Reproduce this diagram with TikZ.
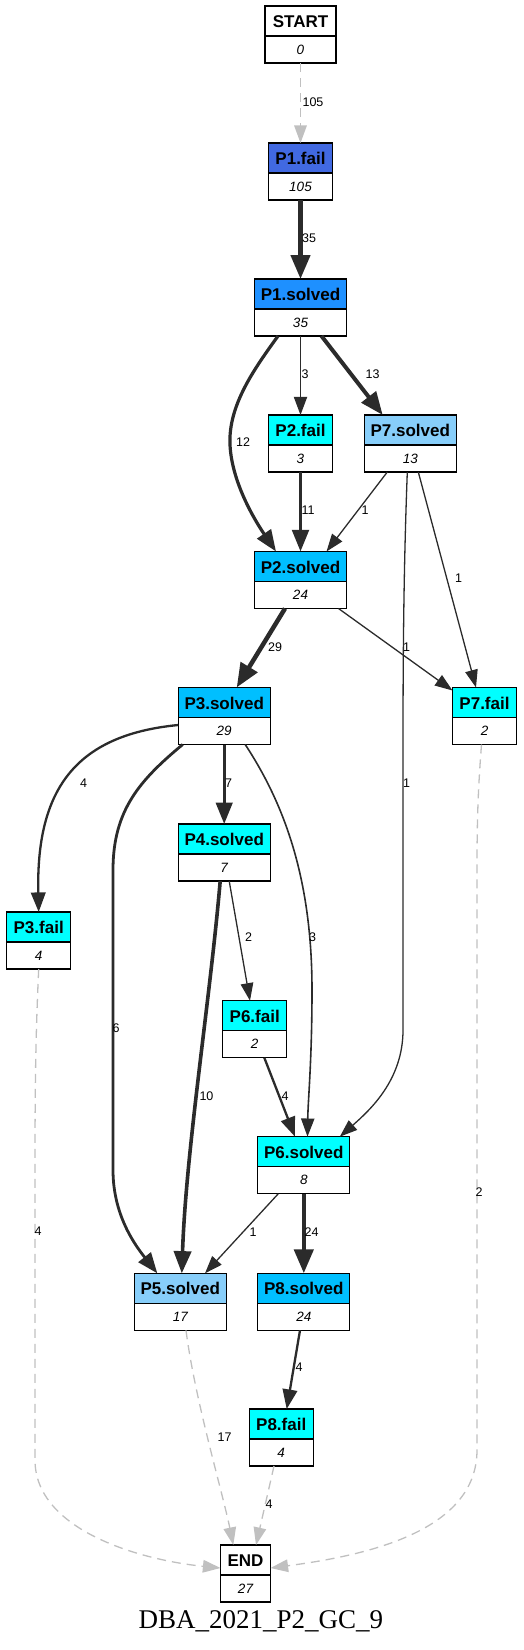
\documentclass[tikz,border=0pt]{standalone}
\usepackage{fontspec}
\setmainfont{Liberation Serif}
\newfontfamily\gvsans{Liberation Sans}
\usetikzlibrary{arrows.meta}
\definecolor{edgec}{HTML}{2B2B2B}
\definecolor{grayc}{HTML}{C0C0C0}
\definecolor{royal}{HTML}{4169E1}
\definecolor{dodger}{HTML}{1E90FF}
\definecolor{deepsky}{HTML}{00BFFF}
\definecolor{lightsky}{HTML}{87CEFA}
\definecolor{cyanc}{HTML}{00FFFF}
\tikzset{
 gvb/.style={draw=black, line width=1.3pt, minimum height=57pt, inner sep=0pt, outer sep=0pt},
 gvt/.style={font=\gvsans\fontsize{17}{17}\selectfont\bfseries, inner sep=0pt},
 gvv/.style={font=\gvsans\fontsize{13.5}{13.5}\selectfont\itshape, inner sep=0pt},
 lbl/.style={font=\gvsans\fontsize{12.5}{12.5}\selectfont, inner sep=0pt},
 ed/.style={draw=edgec, line width=#1, -{Triangle[length=15pt 2, width=10pt 2]}},
 ged/.style={draw=grayc, line width=1.3pt, dash pattern=on 9pt off 6pt, -{Triangle[length=15pt 2, width=10pt 2]}},
}
\newcommand{\gvbox}[7]{%
  \fill[#5] (#2-#4/2,#3) rectangle (#2+#4/2,#3+30);
  \node[gvb, minimum width=#4pt, anchor=north] (#1) at (#2,#3) {};
  \draw[line width=1.3pt] (#2-#4/2,#3+30) -- (#2+#4/2,#3+30);
  \node[gvt] (#1t) at (#2,#3+15.5) {#6};
  \node[gvv] (#1v) at (#2,#3+43.5) {#7};
}
\begin{document}
\begin{tikzpicture}[x=1pt,y=-1pt]
\useasboundingbox (0,0) rectangle (523,1650);
\gvbox{START}{300.5}{6}{71}{white}{START}{0}
\gvbox{P1f}{300.5}{143}{64}{royal}{P1.fail}{105}
\gvbox{P1s}{300.5}{279}{92}{dodger}{P1.solved}{35}
\gvbox{P2f}{300.5}{415}{64}{cyanc}{P2.fail}{3}
\gvbox{P7s}{410.3}{415}{92}{lightsky}{P7.solved}{13}
\gvbox{P2s}{300.5}{551.5}{92}{deepsky}{P2.solved}{24}
\gvbox{P3s}{224.2}{687.5}{92}{deepsky}{P3.solved}{29}
\gvbox{P7f}{484.5}{687.5}{64}{cyanc}{P7.fail}{2}
\gvbox{P4s}{224.2}{824}{92}{cyanc}{P4.solved}{7}
\gvbox{P3f}{38.7}{912}{64}{cyanc}{P3.fail}{4}
\gvbox{P6f}{254.7}{1000.7}{64}{cyanc}{P6.fail}{2}
\gvbox{P6s}{303.8}{1136.7}{92}{cyanc}{P6.solved}{8}
\gvbox{P5s}{180.3}{1273.3}{92}{lightsky}{P5.solved}{17}
\gvbox{P8s}{303.8}{1273.3}{92}{deepsky}{P8.solved}{24}
\gvbox{P8f}{281.2}{1409}{64}{cyanc}{P8.fail}{4}
\gvbox{END}{245.5}{1545}{50}{white}{END}{27}
\node[font=\fontsize{27}{27}\selectfont, anchor=base, inner sep=0pt] (title) at (261,1628) {DBA\_2021\_P2\_GC\_9};
% edges
\draw[ged] (START.south) -- (P1f.north);
\draw[ed=4.5pt] (P1f.south) -- (P1s.north);
\draw[ed=1.6pt] (P1s.south) -- (P2f.north);
\draw[ed=4pt] ([xshift=21pt]P1s.south) -- ([xshift=-27.6pt]P7s.north);
\draw[ed=3.2pt] ([xshift=-22.5pt]P1s.south) .. controls (255,368) and (228,405) .. (230,445) .. controls (232,485) and (258,525) .. ([xshift=-24.5pt]P2s.north);
\draw[ed=3.3pt] (P2f.south) -- (P2s.north);
\draw[ed=1.3pt] ([xshift=-23pt]P7s.south) -- ([xshift=26pt]P2s.north);
\draw[ed=1.3pt] ([xshift=8pt]P7s.south) -- ([xshift=-8.5pt]P7f.north);
\draw[ed=1.3pt] ([xshift=-3pt]P7s.south) .. controls (404,560) and (403,640) .. (403,750) -- (403,1030) .. controls (403,1080) and (370,1110) .. ([xshift=36pt]P6s.north);
\draw[ed=4.5pt] ([xshift=-15.5pt]P2s.south) -- ([xshift=12.5pt]P3s.north);
\draw[ed=1.3pt] ([xshift=38pt]P2s.south) -- ([yshift=-3pt]P7f.north west);
\draw[ed=2.3pt] ([yshift=-9pt]P3s.west) .. controls (75,735) and (36,790) .. (P3f.north);
\draw[ed=2.8pt] ([xshift=-41.5pt]P3s.south) .. controls (140,780) and (113,810) .. (113,870) -- (113,1170) .. controls (113,1215) and (135,1245) .. ([xshift=-23pt]P5s.north);
\draw[ed=3.2pt] (P3s.south) -- (P4s.north);
\draw[ed=1.6pt] ([xshift=21pt]P3s.south) .. controls (285,805) and (312,880) .. (312,990) .. controls (312,1060) and (308,1100) .. ([xshift=3.7pt]P6s.north);
\draw[ed=3.6pt] ([xshift=-4pt]P4s.south) .. controls (210,1000) and (186,1150) .. ([xshift=1.5pt]P5s.north);
\draw[ed=1.3pt] ([xshift=5pt]P4s.south) -- ([xshift=-4.7pt]P6f.north);
\draw[ed=2.3pt] ([xshift=9.6pt]P6f.south) -- ([xshift=-8.8pt]P6s.north);
\draw[ed=1.3pt] ([xshift=-25.5pt]P6s.south) -- ([xshift=24.7pt]P5s.north);
\draw[ed=4.5pt] (P6s.south) -- (P8s.north);
\draw[ed=2.3pt] ([xshift=-3.8pt]P8s.south) -- ([xshift=5.5pt]P8f.north);
\draw[ged] ([xshift=-7.2pt]P8f.south) -- ([xshift=10.5pt]END.north);
\draw[ged] ([xshift=5.7pt]P5s.south) .. controls (195,1400) and (222,1490) .. ([xshift=-12.2pt]END.north);
\draw[ged] (P3f.south) .. controls (35,1050) and (35,1100) .. (35,1200) -- (35,1460) .. controls (35,1530) and (140,1560) .. ([yshift=5.5pt]END.west);
\draw[ged] ([xshift=-3pt]P7f.south) .. controls (478,790) and (477,820) .. (477,870) -- (477,1450) .. controls (477,1530) and (370,1555) .. ([yshift=5.5pt]END.east);
% labels
\node[lbl] (l1) at (313,101.7) {105};
\node[lbl] (l2) at (309,238) {35};
\node[lbl] (l3) at (305,374) {3};
\node[lbl] (l4) at (372.5,374) {13};
\node[lbl] (l5) at (243,442) {12};
\node[lbl] (l6) at (308,510) {11};
\node[lbl] (l7) at (365,510) {1};
\node[lbl] (l8) at (458.5,578) {1};
\node[lbl] (l9) at (406.5,783) {1};
\node[lbl] (l10) at (275,647) {29};
\node[lbl] (l11) at (406.5,647) {1};
\node[lbl] (l12) at (83.5,783) {4};
\node[lbl] (l13) at (116,1028) {6};
\node[lbl] (l14) at (228.5,783) {7};
\node[lbl] (l15) at (312.5,937.6) {3};
\node[lbl] (l16) at (206.5,1096) {10};
\node[lbl] (l17) at (248.5,937) {2};
\node[lbl] (l18) at (285,1096) {4};
\node[lbl] (l19) at (253,1232) {1};
\node[lbl] (l20) at (311.5,1232) {24};
\node[lbl] (l21) at (299,1367) {4};
\node[lbl] (l22) at (269,1504) {4};
\node[lbl] (l23) at (224.5,1437) {17};
\node[lbl] (l24) at (38,1231) {4};
\node[lbl] (l25) at (479,1192) {2};
\end{tikzpicture}
\end{document}
